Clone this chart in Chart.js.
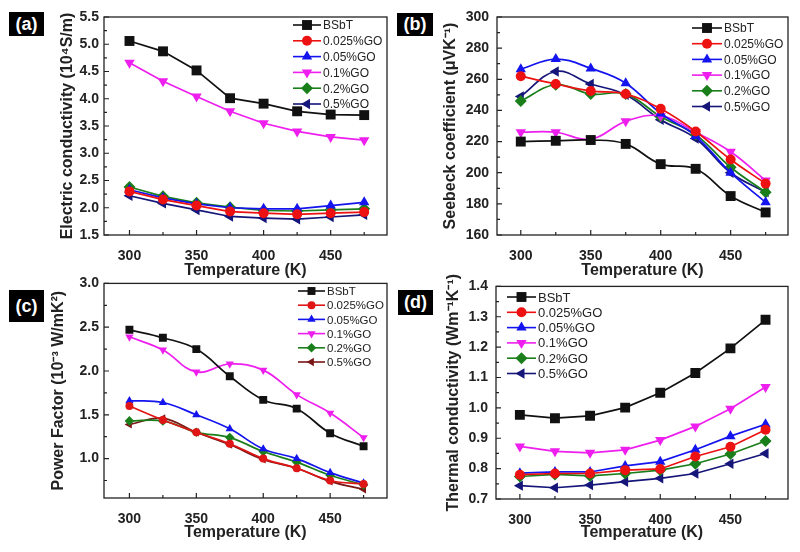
<!DOCTYPE html>
<html>
<head>
<meta charset="utf-8">
<script src="https://cdn.jsdelivr.net/npm/chart.js@4.4.1/dist/chart.umd.min.js"></script>
<style>
  body { margin: 0; background: #fff; }
  #wrap { position: relative; width: 800px; height: 552px; overflow: hidden; font-family: Arial, "Liberation Sans", sans-serif; }
  canvas { position: absolute; }
  .tag { position: absolute; z-index: 2; background: #000; color: #fff; font-weight: bold; font-size: 18px;
         display: flex; align-items: center; justify-content: center; }
</style>
</head>
<body>
<div id="wrap">
  <canvas id="ca" width="400" height="285" style="left:0;top:0"></canvas>
  <canvas id="cb" width="400" height="285" style="left:400px;top:0"></canvas>
  <canvas id="cc" width="400" height="282" style="left:0;top:270px"></canvas>
  <canvas id="cd" width="400" height="282" style="left:400px;top:270px"></canvas>
  <div class="tag" style="left:9px;top:12px;width:35px;height:24px">(a)</div>
  <div class="tag" style="left:397px;top:13px;width:36px;height:23px">(b)</div>
  <div class="tag" style="left:9px;top:290px;width:35px;height:32px">(c)</div>
  <div class="tag" style="left:398px;top:290px;width:35px;height:25px">(d)</div>
</div>
<script>
// temperature (K)
const temps = [300, 325, 350, 375, 400, 425, 450, 475];
const seriesNames = ['BSbT', '0.025%GO', '0.05%GO', '0.1%GO', '0.2%GO', '0.5%GO'];

// (a) electric conductivity, 10^4 S/m
const sigmaBSbT = [5.06, 4.87, 4.52, 4.01, 3.91, 3.77, 3.71, 3.70];
const sigma0025 = [2.30, 2.15, 2.04, 1.93, 1.90, 1.88, 1.90, 1.92];
const sigma005  = [2.33, 2.18, 2.07, 2.00, 1.98, 1.98, 2.04, 2.10];
const sigma01   = [4.66, 4.32, 4.04, 3.77, 3.55, 3.40, 3.30, 3.24];
const sigma02   = [2.38, 2.21, 2.09, 2.01, 1.95, 1.94, 1.96, 1.98];
const sigma05   = [2.22, 2.08, 1.96, 1.84, 1.81, 1.79, 1.83, 1.87];

// (b) Seebeck coefficient, uV/K
const seebBSbT = [220, 220.5, 221, 218.5, 205.5, 202.5, 185, 174.5];
const seeb0025 = [262, 257, 252.5, 250.5, 241, 226.5, 208.5, 193];
const seeb005  = [266.5, 273, 267, 257.5, 238, 223.5, 200, 181];
const seeb01   = [226, 226, 221.5, 233, 236.5, 226, 213.5, 195];
const seeb02   = [246, 256.5, 250.5, 250.5, 236, 224.5, 203.5, 187.5];
const seeb05   = [249, 265, 257, 250, 234, 222, 200, 187.5];

// (c) power factor, 10^-3 W/mK^2
const pfBSbT = [2.47, 2.38, 2.25, 1.94, 1.67, 1.57, 1.29, 1.14];
const pf0025 = [1.60, 1.44, 1.30, 1.17, 1.00, 0.89, 0.75, 0.71];
const pf005  = [1.66, 1.64, 1.50, 1.34, 1.11, 1.00, 0.84, 0.72];
const pf01   = [2.39, 2.24, 1.99, 2.08, 2.01, 1.73, 1.52, 1.24];
const pf02   = [1.43, 1.43, 1.30, 1.24, 1.08, 0.96, 0.81, 0.70];
const pf05   = [1.39, 1.46, 1.30, 1.16, 0.99, 0.89, 0.74, 0.65];

// (d) thermal conductivity, W/mK
const kBSbT = [0.977, 0.966, 0.974, 1.001, 1.050, 1.115, 1.196, 1.290];
const k0025 = [0.780, 0.784, 0.784, 0.795, 0.799, 0.840, 0.872, 0.928];
const k005  = [0.785, 0.789, 0.789, 0.809, 0.823, 0.862, 0.907, 0.946];
const k01   = [0.873, 0.857, 0.852, 0.862, 0.894, 0.939, 0.997, 1.069];
const k02   = [0.774, 0.781, 0.776, 0.784, 0.795, 0.816, 0.848, 0.891];
const k05   = [0.744, 0.737, 0.746, 0.757, 0.768, 0.784, 0.816, 0.850];

const markers = [
  { style: 'rect', rot: 0, r: 7 },
  { style: 'circle', rot: 0, r: 5 },
  { style: 'triangle', rot: 0, r: 6 },
  { style: 'triangle', rot: 180, r: 6 },
  { style: 'rectRot', rot: 0, r: 6 },
  { style: 'triangle', rot: 270, r: 6 }
];
const baseColors = ['#111111', '#ee1111', '#1414ee', '#ee1fee', '#1a7f1a', '#16167a'];
const FONT = 'Arial, "Liberation Sans", sans-serif';

function drawMarker(ctx, m, r, x, y, color) {
  ctx.save();
  ctx.translate(x, y);
  ctx.rotate(m.rot * Math.PI / 180);
  ctx.beginPath();
  if (m.style === 'circle') {
    ctx.arc(0, 0, r, 0, Math.PI * 2);
  } else if (m.style === 'rect') {
    const s = r * Math.SQRT1_2;
    ctx.rect(-s, -s, 2 * s, 2 * s);
  } else if (m.style === 'rectRot') {
    ctx.moveTo(0, -r); ctx.lineTo(r, 0); ctx.lineTo(0, r); ctx.lineTo(-r, 0); ctx.closePath();
  } else {
    ctx.moveTo(0, -r); ctx.lineTo(r * 0.866, r * 0.5); ctx.lineTo(-r * 0.866, r * 0.5); ctx.closePath();
  }
  ctx.fillStyle = color;
  ctx.fill();
  ctx.restore();
}

// box frame + inward major/minor ticks
const frameTicks = {
  id: 'frameTicks',
  afterDraw(chart) {
    const { ctx, chartArea: a } = chart;
    const x = chart.scales.x, y = chart.scales.y;
    ctx.save();
    ctx.strokeStyle = '#222';
    ctx.lineWidth = 1.3;
    ctx.strokeRect(a.left, a.top, a.right - a.left, a.bottom - a.top);
    ctx.lineWidth = 1.2;
    ctx.beginPath();
    const xv = x.ticks.map(t => t.value), xs = (xv[1] - xv[0]) / 2;
    for (let k = -4; k < 40; k++) {
      const v = xv[0] + k * xs;
      if (v < x.min || v > x.max) continue;
      const p = x.getPixelForValue(v);
      ctx.moveTo(p, a.bottom);
      ctx.lineTo(p, a.bottom - (k % 2 === 0 ? 5 : 3));
    }
    const yv = y.ticks.map(t => t.value), ys = (yv[1] - yv[0]) / 2;
    for (let k = -4; k < 60; k++) {
      const v = yv[0] + k * ys;
      if (v < y.min - 1e-9 || v > y.max + 1e-9) continue;
      const p = y.getPixelForValue(v);
      ctx.moveTo(a.left, p);
      ctx.lineTo(a.left + (k % 2 === 0 ? 5 : 3), p);
    }
    ctx.stroke();
    ctx.restore();
  }
};

// legend drawn inside the plot: line + marker + label
const boxLegend = {
  id: 'boxLegend',
  afterDraw(chart, args, o) {
    const ctx = chart.ctx;
    ctx.save();
    ctx.font = o.font + 'px ' + FONT;
    ctx.textBaseline = 'middle';
    chart.data.datasets.forEach((ds, i) => {
      const y = o.y + i * o.gap;
      ctx.strokeStyle = ds.borderColor;
      ctx.lineWidth = 1.6;
      ctx.beginPath();
      ctx.moveTo(o.x, y);
      ctx.lineTo(o.x + o.len, y);
      ctx.stroke();
      drawMarker(ctx, markers[i], markers[i].r * o.scale, o.x + o.len / 2, y, ds.backgroundColor);
      ctx.fillStyle = '#222';
      ctx.fillText(ds.label, o.x + o.len + 2, y + 1);
    });
    ctx.restore();
  }
};

function makePanel(c) {
  const datasets = c.series.map((vals, i) => ({
    label: seriesNames[i],
    data: temps.map((t, j) => ({ x: t, y: vals[j] })),
    borderColor: c.colors[i],
    backgroundColor: c.colors[i],
    borderWidth: 1.7,
    pointStyle: markers[i].style,
    rotation: markers[i].rot,
    pointRadius: markers[i].r * c.scale,
    pointBorderWidth: 0,
    tension: c.tension
  }));
  new Chart(document.getElementById(c.id), {
    type: 'line',
    data: { datasets },
    plugins: [frameTicks, boxLegend],
    options: {
      responsive: false,
      animation: false,
      devicePixelRatio: 1,
      layout: { padding: { left: 0, top: c.top, right: c.right, bottom: 0 } },
      plugins: { legend: { display: false }, tooltip: { enabled: false }, boxLegend: c.legend },
      scales: {
        x: {
          type: 'linear', min: c.xMin, max: c.xMax,
          afterFit: s => { s.height = c.xHeight; },
          grid: { display: false }, border: { display: false },
          ticks: { stepSize: 50, includeBounds: false, padding: 5, color: '#222',
                   font: { family: FONT, size: 14, weight: 'bold' } },
          title: { display: true, text: 'Temperature (K)', color: '#222', padding: { top: 0, bottom: c.xTitlePad },
                   font: { family: FONT, size: 16, weight: 'bold' } }
        },
        y: {
          min: c.yMin, max: c.yMax,
          afterFit: s => { s.width = c.yWidth; },
          grid: { display: false, drawTicks: false }, border: { display: false },
          ticks: { stepSize: c.yStep, includeBounds: false, padding: c.yTickPad, color: '#222',
                   font: { family: FONT, size: 14, weight: 'bold' },
                   callback: v => v.toFixed(c.digits) },
          title: { display: true, text: c.yTitle, color: '#222', padding: { top: c.yTitlePad, bottom: 0 },
                   font: { family: FONT, size: 16, weight: 'bold' } }
        }
      }
    }
  });
}

makePanel({
  id: 'ca', series: [sigmaBSbT, sigma0025, sigma005, sigma01, sigma02, sigma05], colors: baseColors,
  xMin: 281, xMax: 492, yMin: 1.5, yMax: 5.5, yStep: 0.5, digits: 1, tension: 0, scale: 1,
  top: 17, right: 13, yWidth: 104, xHeight: 50, xTitlePad: 5, yTitlePad: 58, yTickPad: 5,
  yTitle: 'Electric conductivity (10\u2074S/m)',
  legend: { x: 293, y: 25, gap: 15.8, len: 28, font: 12, scale: 1 }
});
makePanel({
  id: 'cb', series: [seebBSbT, seeb0025, seeb005, seeb01, seeb02, seeb05], colors: baseColors,
  xMin: 283, xMax: 491, yMin: 160, yMax: 300, yStep: 20, digits: 0, tension: 0.4, scale: 1,
  top: 17, right: 12, yWidth: 97, xHeight: 50, xTitlePad: 5, yTitlePad: 41, yTickPad: 8,
  yTitle: 'Seebeck coefficient (\u03bcVK\u207b\u00b9)',
  legend: { x: 292, y: 28, gap: 15.7, len: 30, font: 12, scale: 1 }
});
makePanel({
  id: 'cc', series: [pfBSbT, pf0025, pf005, pf01, pf02, pf05],
  colors: ['#111111', '#e01515', '#1414ee', '#ee1fee', '#1a7f1a', '#7a1616'],
  xMin: 281, xMax: 492.5, yMin: 0.55, yMax: 3.0, yStep: 0.5, digits: 1, tension: 0.4, scale: 0.8,
  top: 12, right: 13, yWidth: 104, xHeight: 54, xTitlePad: 10, yTitlePad: 49, yTickPad: 5,
  yTitle: 'Power Factor (10\u207b\u00b3 W/mK\u00b2)',
  legend: { x: 298, y: 21, gap: 14.2, len: 27, font: 11.5, scale: 0.8 }
});
makePanel({
  id: 'cd', series: [kBSbT, k0025, k005, k01, k02, k05], colors: baseColors,
  xMin: 283, xMax: 491, yMin: 0.7, yMax: 1.4, yStep: 0.1, digits: 1, tension: 0, scale: 1,
  top: 12, right: 12, yWidth: 96, xHeight: 53, xTitlePad: 10, yTitlePad: 44, yTickPad: 8,
  yTitle: 'Thermal conductivity (Wm\u207b\u00b9K\u207b\u00b9)',
  legend: { x: 107, y: 27, gap: 15.3, len: 29, font: 13, scale: 1 }
});
</script>
</body>
</html>
